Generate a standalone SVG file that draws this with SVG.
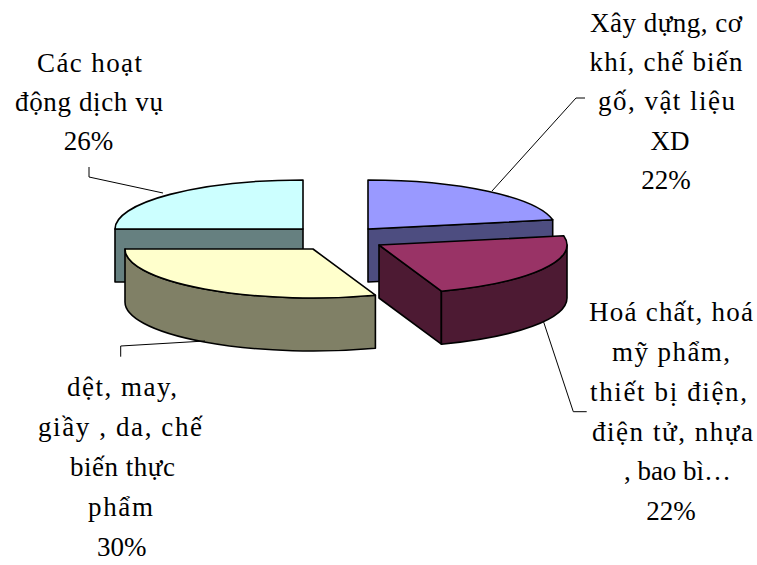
<svg xmlns="http://www.w3.org/2000/svg" width="757" height="565" viewBox="0 0 757 565">
<style>
.f{stroke:#000;stroke-width:1.6;stroke-linejoin:round}
.lead{fill:none;stroke:#000;stroke-width:1}
text{font-family:"Liberation Serif","Times New Roman",serif;font-size:27px;fill:#000;text-anchor:middle}
</style>
<rect width="757" height="565" fill="#fff"/>
<g id="slice-dichvu">
<polygon class="f" fill="#668080" points="115,229 303,229 303,282 115,282"/>
<path class="f" fill="#CCFFFF" d="M303,229 L303,180 A188,49 0 0 0 115,229 Z"/>
</g>
<g id="slice-xaydung">
<polygon class="f" fill="#4D4D80" points="368,229 552.7,219.8 552.7,272.8 368,282"/>
<path class="f" fill="#9999FF" d="M368,229 L368,180 A188,49 0 0 1 552.7,219.8 Z"/>
</g>
<g id="slice-detmay">
<path class="f" fill="#808066" d="M125,249 A188,49 0 0 0 375.4,295.2 L375.4,348.2 A188,49 0 0 1 125,302 Z"/>
<path class="f" fill="#FFFFCC" d="M313,249 L125,249 A188,49 0 0 0 375.4,295.2 Z"/>
</g>
<g id="slice-hoachat">
<polygon class="f" fill="#4D1A33" points="379,245 441.4,291.2 441.4,344.2 379,298"/>
<path class="f" fill="#4D1A33" d="M567,245 A188,49 0 0 1 441.4,291.2 L441.4,344.2 A188,49 0 0 0 567,298 Z"/>
<path class="f" fill="#993366" d="M379,245 L563.7,235.8 A188,49 0 0 1 441.4,291.2 Z"/>
</g>
<g id="connectors">
<polyline class="lead" points="89,167 89,177 163,193"/>
<polyline class="lead" points="585,98 576,98 492,191"/>
<polyline class="lead" points="543.3,321 573.3,411.7 586.7,411.7"/>
<polyline class="lead" points="120.7,356.7 120.7,346 205,341"/>
</g>
<g id="label-dichvu">
<text x="89.5" y="72" textLength="105" lengthAdjust="spacing">Các hoạt</text>
<text x="89" y="111" textLength="148" lengthAdjust="spacing">động dịch vụ</text>
<text x="88.5" y="150">26%</text>
</g>
<g id="label-xaydung">
<text x="666" y="32" textLength="152" lengthAdjust="spacing">Xây dựng, cơ</text>
<text x="666" y="71" textLength="153" lengthAdjust="spacing">khí, chế biến</text>
<text x="666.5" y="110" textLength="137" lengthAdjust="spacing">gố, vật liệu</text>
<text x="670" y="150">XD</text>
<text x="666" y="189">22%</text>
</g>
<g id="label-hoachat">
<text x="671" y="321" textLength="164" lengthAdjust="spacing">Hoá chất, hoá</text>
<text x="671" y="361" textLength="118" lengthAdjust="spacing">mỹ phẩm,</text>
<text x="668.5" y="401" textLength="157" lengthAdjust="spacing">thiết bị điện,</text>
<text x="672.5" y="441" textLength="161" lengthAdjust="spacing">điện tử, nhựa</text>
<text x="677.5" y="480">, bao bì…</text>
<text x="671" y="520">22%</text>
</g>
<g id="label-detmay">
<text x="122" y="396" textLength="110" lengthAdjust="spacing">dệt, may,</text>
<text x="120" y="436" textLength="164" lengthAdjust="spacing">giầy , da,  chế</text>
<text x="122.5" y="476" textLength="105" lengthAdjust="spacing">biến thực</text>
<text x="120.5" y="516" textLength="65" lengthAdjust="spacing">phẩm</text>
<text x="121.7" y="556">30%</text>
</g>
</svg>
